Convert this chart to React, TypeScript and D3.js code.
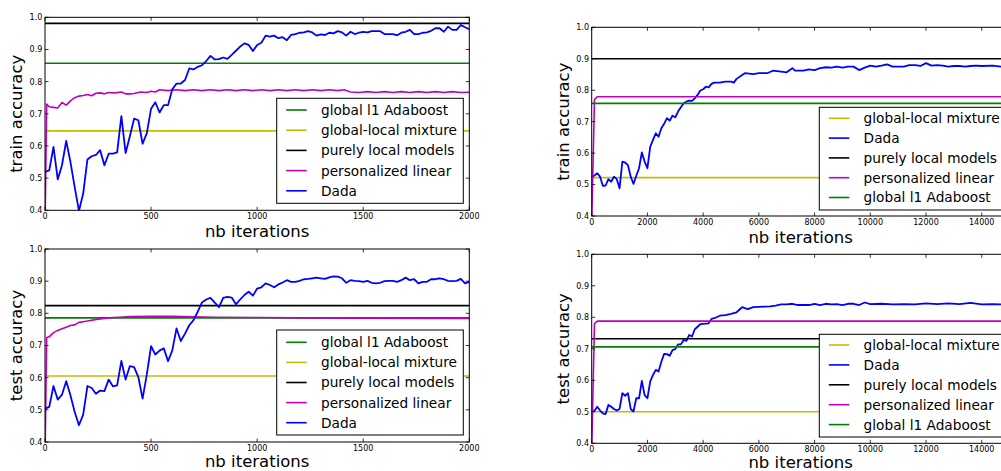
import React from "react";
import * as d3 from "d3";

// ---- data ----
const yTicks = [0.4, 0.5, 0.6, 0.7, 0.8, 0.9, 1.0];
const leftXTicks = [0, 500, 1000, 1500, 2000];
const rightXTicks = [0, 2000, 4000, 6000, 8000, 10000, 12000, 14000];

// left panels: Dada sampled every 20 iterations
const leftIters = d3.range(0, 2001, 20);

const dadaTrainLeft = [
  0.519, 0.524, 0.597, 0.496, 0.54, 0.616, 0.55, 0.472, 0.398, 0.452,
  0.558, 0.568, 0.572, 0.587, 0.54, 0.576, 0.576, 0.58, 0.693, 0.578,
  0.63, 0.685, 0.68, 0.607, 0.64, 0.716, 0.736, 0.704, 0.727, 0.727,
  0.776, 0.794, 0.794, 0.805, 0.841, 0.838, 0.846, 0.851, 0.864, 0.88,
  0.869, 0.87, 0.875, 0.871, 0.883, 0.896, 0.909, 0.919, 0.914, 0.895,
  0.914, 0.921, 0.943, 0.94, 0.943, 0.935, 0.938, 0.929, 0.945, 0.948,
  0.952, 0.953, 0.957, 0.953, 0.943, 0.947, 0.945, 0.952, 0.95, 0.957,
  0.953, 0.943, 0.955, 0.948, 0.952, 0.955, 0.953, 0.957, 0.957, 0.957,
  0.948, 0.948, 0.948, 0.944, 0.952, 0.955, 0.961, 0.948, 0.948, 0.952,
  0.953, 0.958, 0.966, 0.966, 0.955, 0.971, 0.961, 0.961, 0.976, 0.969,
  0.963,
];

const dadaTestLeft = [
  0.504, 0.509, 0.574, 0.532, 0.547, 0.589, 0.545, 0.493, 0.452, 0.485,
  0.574, 0.568, 0.55, 0.56, 0.558, 0.594, 0.573, 0.576, 0.652, 0.594,
  0.636, 0.633, 0.602, 0.535, 0.61, 0.698, 0.672, 0.684, 0.691, 0.651,
  0.685, 0.753, 0.714, 0.737, 0.763, 0.779, 0.805, 0.834, 0.843, 0.848,
  0.833, 0.819, 0.848, 0.851, 0.849, 0.828, 0.843, 0.857, 0.867, 0.855,
  0.877, 0.881, 0.893, 0.888, 0.881, 0.89, 0.896, 0.903, 0.898, 0.898,
  0.901, 0.906, 0.907, 0.909, 0.911, 0.909, 0.907, 0.912, 0.915, 0.914,
  0.909, 0.895, 0.903, 0.901, 0.9, 0.898, 0.901, 0.895, 0.893, 0.895,
  0.9, 0.901, 0.901, 0.898, 0.903, 0.911, 0.903, 0.906, 0.893, 0.898,
  0.898, 0.906, 0.906, 0.909, 0.906, 0.901, 0.9, 0.901, 0.907, 0.893,
  0.898,
];

const persTrainLeft: [number, number][] = [
  [0, 0.35], [8, 0.73], [20, 0.722], [40, 0.72], [60, 0.718], [80, 0.735],
  [100, 0.727], [120, 0.74], [140, 0.75], [160, 0.755], [180, 0.757],
  [200, 0.76], [220, 0.756], [240, 0.764], [260, 0.765], [280, 0.762],
  [300, 0.766], [330, 0.765], [360, 0.768], [380, 0.762], [400, 0.762],
  [420, 0.763], [450, 0.768], [480, 0.766], [500, 0.77], [520, 0.768],
  [540, 0.775], [580, 0.772], [620, 0.775], [660, 0.772], [700, 0.775],
  [740, 0.772], [780, 0.775], [820, 0.772], [860, 0.775], [900, 0.772],
  [940, 0.775], [980, 0.772], [1020, 0.775], [1060, 0.772], [1100, 0.775],
  [1140, 0.772], [1180, 0.775], [1220, 0.772], [1260, 0.775], [1300, 0.772],
  [1340, 0.775], [1380, 0.772], [1410, 0.775], [1440, 0.768], [1480, 0.766],
  [1520, 0.769], [1560, 0.766], [1600, 0.769], [1640, 0.766], [1680, 0.769],
  [1720, 0.766], [1760, 0.769], [1800, 0.766], [1840, 0.769], [1880, 0.766],
  [1920, 0.769], [1960, 0.766], [2000, 0.767],
];

const persTestLeft: [number, number][] = [
  [0, 0.35], [8, 0.725], [20, 0.727], [40, 0.74], [60, 0.747], [80, 0.752],
  [100, 0.757], [120, 0.762], [140, 0.764], [160, 0.772], [180, 0.774],
  [200, 0.776], [250, 0.782], [300, 0.786], [350, 0.788], [400, 0.79],
  [500, 0.791], [600, 0.791], [700, 0.789], [800, 0.788], [1000, 0.787],
  [1200, 0.786], [1500, 0.785], [2000, 0.784],
];

// right panels: Dada at irregular iterations
const dadaTrainRight: [number, number][] = [
  [0, 0.522], [200, 0.536], [300, 0.525], [400, 0.496], [500, 0.497],
  [600, 0.517], [700, 0.509], [800, 0.525], [900, 0.517], [1000, 0.488],
  [1100, 0.573], [1200, 0.57], [1300, 0.562], [1400, 0.525], [1500, 0.502],
  [1600, 0.528], [1700, 0.552], [1800, 0.602], [1900, 0.573], [2000, 0.552],
  [2100, 0.62], [2200, 0.642], [2300, 0.663], [2400, 0.652], [2500, 0.679],
  [2600, 0.693], [2700, 0.711], [2800, 0.703], [2900, 0.719], [3000, 0.714],
  [3100, 0.732], [3200, 0.746], [3300, 0.758], [3400, 0.764], [3500, 0.767],
  [3600, 0.766], [3700, 0.774], [3800, 0.785], [3900, 0.799], [4000, 0.803],
  [4100, 0.811], [4200, 0.809], [4300, 0.82], [4400, 0.824], [4600, 0.824],
  [4800, 0.827], [5000, 0.827], [5100, 0.824], [5200, 0.836], [5400, 0.848],
  [5500, 0.854], [5800, 0.851], [6000, 0.854], [6300, 0.854], [6500, 0.862],
  [6800, 0.859], [7000, 0.857], [7200, 0.87], [7300, 0.862], [7600, 0.862],
  [7800, 0.866], [8000, 0.864], [8200, 0.87], [8400, 0.873], [8600, 0.872],
  [8800, 0.875], [9000, 0.872], [9200, 0.875], [9400, 0.875], [9600, 0.864],
  [9800, 0.872], [10000, 0.878], [10200, 0.875], [10400, 0.878], [10600, 0.882],
  [10800, 0.875], [11000, 0.875], [11200, 0.875], [11400, 0.88], [11600, 0.88],
  [11800, 0.877], [12000, 0.886], [12200, 0.878], [12400, 0.88], [12600, 0.878],
  [12800, 0.875], [13000, 0.877], [13200, 0.877], [13400, 0.875], [13600, 0.877],
  [13800, 0.878], [14000, 0.877], [14400, 0.878], [14700, 0.875], [15000, 0.875],
];

const dadaTestRight: [number, number][] = [
  [0, 0.501], [100, 0.503], [200, 0.516], [300, 0.504], [400, 0.495],
  [500, 0.493], [600, 0.522], [700, 0.516], [800, 0.509], [900, 0.504],
  [1000, 0.509], [1100, 0.559], [1200, 0.551], [1300, 0.559], [1400, 0.509],
  [1500, 0.501], [1600, 0.543], [1700, 0.543], [1800, 0.598], [1900, 0.553],
  [2000, 0.543], [2100, 0.596], [2200, 0.617], [2300, 0.633], [2400, 0.628],
  [2500, 0.659], [2600, 0.684], [2700, 0.683], [2800, 0.678], [2900, 0.696],
  [3000, 0.699], [3100, 0.714], [3200, 0.714], [3300, 0.728], [3400, 0.725],
  [3500, 0.744], [3600, 0.739], [3700, 0.762], [3800, 0.77], [3900, 0.778],
  [4000, 0.779], [4200, 0.781], [4300, 0.795], [4400, 0.797], [4600, 0.805],
  [4800, 0.807], [5000, 0.811], [5200, 0.816], [5400, 0.832], [5600, 0.826],
  [5800, 0.832], [6000, 0.833], [6200, 0.834], [6400, 0.835], [6600, 0.837],
  [6800, 0.841], [7000, 0.841], [7200, 0.843], [7400, 0.839], [7600, 0.839],
  [7800, 0.839], [8000, 0.843], [8200, 0.839], [8400, 0.843], [8600, 0.841],
  [8800, 0.842], [9000, 0.839], [9200, 0.843], [9400, 0.843], [9600, 0.839],
  [9800, 0.847], [10000, 0.842], [10400, 0.843], [10800, 0.841], [11200, 0.842],
  [11600, 0.841], [12000, 0.844], [12400, 0.842], [12800, 0.844], [13200, 0.842],
  [13600, 0.846], [14000, 0.841], [14400, 0.842], [14800, 0.841], [15000, 0.841],
];

const persTrainRight: [number, number][] = [[0, 0.38], [100, 0.77], [200, 0.779], [15000, 0.779]];
const persTestRight: [number, number][] = [[0, 0.38], [100, 0.78], [200, 0.788], [15000, 0.788]];

// constant baselines per panel (train-left, test-left, train-right, test-right)
const adaboost = [0.857, 0.786, 0.758, 0.706];
const mixture = [0.647, 0.605, 0.522, 0.5];
const purelyLocal = [0.981, 0.824, 0.9, 0.732];

// ---- styling ----
const COLORS: Record<string, string> = {
  ada: "#008000",
  mix: "#bfbf00",
  local: "#000000",
  pers: "#bf00bf",
  dada: "#0000ff",
};
const NAMES: Record<string, string> = {
  ada: "global l1 Adaboost",
  mix: "global-local mixture",
  local: "purely local models",
  pers: "personalized linear",
  dada: "Dada",
};
const FONT = "DejaVu Sans, sans-serif";

type PanelProps = {
  id: number;
  box: { left: number; right: number; top: number; bottom: number };
  xMax: number;
  xTicks: number[];
  ylabel: string;
  ylabelX: number;
  xlabelY: number;
  dada: [number, number][];
  pers: [number, number][];
  order: string[];
  legend: { x: number; y: number; w: number; h: number; first: number; step: number };
};

const Panel = (p: PanelProps) => {
  const { box } = p;
  const x = d3.scaleLinear().domain([0, p.xMax]).range([box.left, box.right]);
  const y = d3.scaleLinear().domain([0.4, 1.0]).range([box.bottom, box.top]);
  const line = d3
    .line<[number, number]>()
    .x((d) => x(d[0]))
    .y((d) => y(d[1]));
  const flat = (v: number): [number, number][] => [
    [0, v],
    [p.xMax, v],
  ];
  const series: Record<string, [number, number][]> = {
    ada: flat(adaboost[p.id]),
    mix: flat(mixture[p.id]),
    local: flat(purelyLocal[p.id]),
    pers: p.pers,
    dada: p.dada,
  };
  const tick = 3.5;
  const clip = `clip${p.id}`;
  return (
    <g>
      <defs>
        <clipPath id={clip}>
          <rect x={box.left} y={box.top} width={box.right - box.left} height={box.bottom - box.top} />
        </clipPath>
      </defs>
      <g clipPath={`url(#${clip})`}>
        {p.order.map((k) => (
          <path
            key={k}
            d={line(series[k]) || ""}
            fill="none"
            stroke={COLORS[k]}
            strokeWidth={k === "dada" ? 1.8 : 1.6}
            strokeLinejoin="round"
          />
        ))}
      </g>
      {/* ticks, inward on all sides */}
      {p.xTicks.map((t) => (
        <g key={"x" + t}>
          <line x1={x(t)} x2={x(t)} y1={box.bottom} y2={box.bottom - tick} stroke="#000" strokeWidth={0.8} />
          <line x1={x(t)} x2={x(t)} y1={box.top} y2={box.top + tick} stroke="#000" strokeWidth={0.8} />
          <text x={x(t)} y={box.bottom + 8.6} fontSize={8} textAnchor="middle" fontFamily={FONT}>
            {t}
          </text>
        </g>
      ))}
      {yTicks.map((t) => (
        <g key={"y" + t}>
          <line x1={box.left} x2={box.left + tick} y1={y(t)} y2={y(t)} stroke="#000" strokeWidth={0.8} />
          <line x1={box.right} x2={box.right - tick} y1={y(t)} y2={y(t)} stroke="#000" strokeWidth={0.8} />
          <text x={box.left - 2.7} y={y(t) + 2.9} fontSize={8} textAnchor="end" fontFamily={FONT}>
            {t.toFixed(1)}
          </text>
        </g>
      ))}
      <rect
        x={box.left}
        y={box.top}
        width={box.right - box.left}
        height={box.bottom - box.top}
        fill="none"
        stroke="#000"
        strokeWidth={1}
      />
      {/* legend */}
      <rect x={p.legend.x} y={p.legend.y} width={p.legend.w} height={p.legend.h} fill="#fff" stroke="#000" strokeWidth={1} />
      {p.order.map((k, i) => {
        const ly = p.legend.y + p.legend.first + i * p.legend.step;
        return (
          <g key={"l" + k}>
            <line x1={p.legend.x + 9.5} x2={p.legend.x + 30} y1={ly} y2={ly} stroke={COLORS[k]} strokeWidth={1.6} />
            <text x={p.legend.x + 44.3} y={ly} dy="0.36em" fontSize={13.7} fontFamily={FONT}>
              {NAMES[k]}
            </text>
          </g>
        );
      })}
      <text
        transform={`translate(${p.ylabelX},${(box.top + box.bottom) / 2}) rotate(-90)`}
        textAnchor="middle"
        fontSize={16.5}
        fontFamily={FONT}
      >
        {p.ylabel}
      </text>
      <text x={(box.left + box.right) / 2} y={p.xlabelY} textAnchor="middle" fontSize={16.5} fontFamily={FONT}>
        nb iterations
      </text>
    </g>
  );
};

const toPairs = (vals: number[]): [number, number][] => vals.map((v, i) => [leftIters[i], v]);

const leftOrder = ["ada", "mix", "local", "pers", "dada"];
const rightOrder = ["mix", "dada", "local", "pers", "ada"];

export default function App() {
  return (
    <svg
      width={1001}
      height={471}
      style={{ position: "absolute", left: 0, top: 0, background: "#fff" }}
    >
      <Panel
        id={0}
        box={{ left: 45, right: 469.3, top: 17.3, bottom: 210.3 }}
        xMax={2000}
        xTicks={leftXTicks}
        ylabel="train accuracy"
        ylabelX={21.5}
        xlabelY={236.8}
        dada={toPairs(dadaTrainLeft)}
        pers={persTrainLeft}
        order={leftOrder}
        legend={{ x: 276.7, y: 98.3, w: 186.6, h: 105, first: 11.7, step: 20.2 }}
      />
      <Panel
        id={1}
        box={{ left: 45, right: 469.3, top: 249, bottom: 442 }}
        xMax={2000}
        xTicks={leftXTicks}
        ylabel="test accuracy"
        ylabelX={21.5}
        xlabelY={466.5}
        dada={toPairs(dadaTestLeft)}
        pers={persTestLeft}
        order={leftOrder}
        legend={{ x: 276.7, y: 330, w: 186.6, h: 105, first: 12.3, step: 20.1 }}
      />
      <Panel
        id={2}
        box={{ left: 591.7, right: 1009.6, top: 27.3, bottom: 216 }}
        xMax={15000}
        xTicks={rightXTicks}
        ylabel="train accuracy"
        ylabelX={569.3}
        xlabelY={242.5}
        dada={dadaTrainRight}
        pers={persTrainRight}
        order={rightOrder}
        legend={{ x: 819.3, y: 107.3, w: 186, h: 102.7, first: 11, step: 19.8 }}
      />
      <Panel
        id={3}
        box={{ left: 591.7, right: 1009.6, top: 254.3, bottom: 443.3 }}
        xMax={15000}
        xTicks={rightXTicks}
        ylabel="test accuracy"
        ylabelX={569.3}
        xlabelY={467.8}
        dada={dadaTestRight}
        pers={persTestRight}
        order={rightOrder}
        legend={{ x: 819.3, y: 334.3, w: 186, h: 102.7, first: 10.7, step: 19.9 }}
      />
    </svg>
  );
}
